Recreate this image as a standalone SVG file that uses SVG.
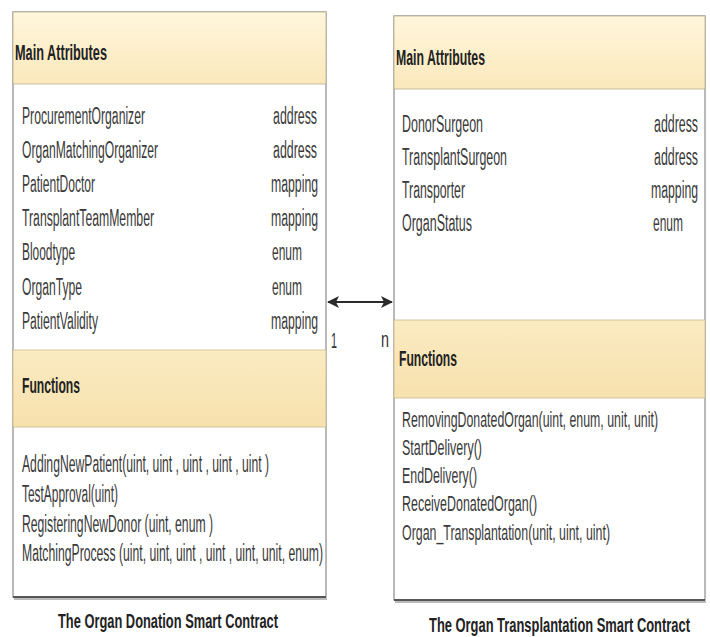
<svg xmlns="http://www.w3.org/2000/svg" width="710" height="637" viewBox="0 0 710 637">
<defs>
<linearGradient id="hdr" x1="0" y1="0" x2="0" y2="1">
<stop offset="0" stop-color="#fff6dc"/>
<stop offset="1" stop-color="#fbe8bb"/>
</linearGradient>
<linearGradient id="fn" x1="0" y1="0" x2="0" y2="1">
<stop offset="0" stop-color="#fbebc2"/>
<stop offset="1" stop-color="#f7e1ad"/>
</linearGradient>
<marker id="ah" viewBox="0 0 12 12" refX="11" refY="6" markerWidth="12" markerHeight="12" markerUnits="userSpaceOnUse" orient="auto-start-reverse">
<path d="M0,0 L12,6 L0,12 L3,6 Z" fill="#2b2b2b"/>
</marker>
</defs>
<style>
.box{fill:#ffffff;stroke:#8a8a8a;stroke-width:1.2}
.hd{fill:url(#hdr);stroke:#b9ae94;stroke-width:0.8}
.fb{fill:url(#fn);stroke:#c9b98f;stroke-width:0.8}
.bot{stroke:#555;stroke-width:2.2}
.sh{stroke:#bbbbbb;stroke-width:2}
.t{font-family:"Liberation Sans",Arial,sans-serif;font-size:23px;fill:#3a3a3a}
.f{font-family:"Liberation Sans",Arial,sans-serif;font-size:22px;fill:#3a3a3a}
.h{font-family:"Liberation Sans",Arial,sans-serif;font-size:22px;font-weight:bold;fill:#222}
.c{font-family:"Liberation Sans",Arial,sans-serif;font-size:21px;font-weight:bold;fill:#222}
.m{font-family:"Liberation Sans",Arial,sans-serif;font-size:22px;fill:#333}
</style>
<rect width="710" height="637" fill="#ffffff"/>

<g id="organ-donation">
<rect class="box" x="13" y="12" width="313" height="585"/>
<rect class="hd" x="13" y="12" width="313" height="72"/>
<rect class="fb" x="13" y="350" width="313" height="77"/>
<line class="sh" x1="14" y1="599" x2="327" y2="599"/>
<line class="bot" x1="13" y1="597" x2="326" y2="597"/>
<text class="h" transform="translate(15,60) scale(0.58,1)" textLength="158.6" lengthAdjust="spacingAndGlyphs">Main Attributes</text>
<text class="t" transform="translate(22,124) scale(0.55,1)" textLength="223.6" lengthAdjust="spacingAndGlyphs">ProcurementOrganizer</text>
<text class="t" transform="translate(22,158) scale(0.55,1)" textLength="247.3" lengthAdjust="spacingAndGlyphs">OrganMatchingOrganizer</text>
<text class="t" transform="translate(22,192) scale(0.55,1)" textLength="132.7" lengthAdjust="spacingAndGlyphs">PatientDoctor</text>
<text class="t" transform="translate(22,226) scale(0.55,1)" textLength="240" lengthAdjust="spacingAndGlyphs">TransplantTeamMember</text>
<text class="t" transform="translate(22,260) scale(0.55,1)" textLength="96.4" lengthAdjust="spacingAndGlyphs">Bloodtype</text>
<text class="t" transform="translate(22,295) scale(0.55,1)" textLength="109.1" lengthAdjust="spacingAndGlyphs">OrganType</text>
<text class="t" transform="translate(22,329) scale(0.55,1)" textLength="138.2" lengthAdjust="spacingAndGlyphs">PatientValidity</text>
<text class="t" transform="translate(273,124) scale(0.55,1)" textLength="80" lengthAdjust="spacingAndGlyphs">address</text>
<text class="t" transform="translate(273,158) scale(0.55,1)" textLength="80" lengthAdjust="spacingAndGlyphs">address</text>
<text class="t" transform="translate(271,192) scale(0.55,1)" textLength="85.5" lengthAdjust="spacingAndGlyphs">mapping</text>
<text class="t" transform="translate(271,226) scale(0.55,1)" textLength="85.5" lengthAdjust="spacingAndGlyphs">mapping</text>
<text class="t" transform="translate(272,260) scale(0.55,1)" textLength="54.5" lengthAdjust="spacingAndGlyphs">enum</text>
<text class="t" transform="translate(272,295) scale(0.55,1)" textLength="54.5" lengthAdjust="spacingAndGlyphs">enum</text>
<text class="t" transform="translate(271,329) scale(0.55,1)" textLength="85.5" lengthAdjust="spacingAndGlyphs">mapping</text>
<text class="h" transform="translate(22,393) scale(0.58,1)" textLength="100" lengthAdjust="spacingAndGlyphs">Functions</text>
<text class="t" transform="translate(22,472) scale(0.55,1)" textLength="449.1" lengthAdjust="spacingAndGlyphs">AddingNewPatient(uint, uint , uint , uint , uint )</text>
<text class="t" transform="translate(22,502) scale(0.55,1)" textLength="174.5" lengthAdjust="spacingAndGlyphs">TestApproval(uint)</text>
<text class="t" transform="translate(22,532) scale(0.55,1)" textLength="347.3" lengthAdjust="spacingAndGlyphs">RegisteringNewDonor (uint, enum )</text>
<text class="t" transform="translate(22,561) scale(0.55,1)" textLength="547.3" lengthAdjust="spacingAndGlyphs">MatchingProcess (uint, uint, uint , uint , uint, unit, enum)</text>
<text class="c" transform="translate(58,628) scale(0.55,1)" textLength="400" lengthAdjust="spacingAndGlyphs">The Organ Donation Smart Contract</text>
</g>

<g id="organ-transplantation">
<rect class="box" x="394" y="16" width="311" height="584"/>
<rect class="hd" x="394" y="16" width="311" height="73"/>
<rect class="fb" x="394" y="320" width="311" height="78"/>
<line class="sh" x1="395" y1="602" x2="706" y2="602"/>
<line class="bot" x1="394" y1="600" x2="705" y2="600"/>
<text class="h" transform="translate(396,65) scale(0.58,1)" textLength="153.4" lengthAdjust="spacingAndGlyphs">Main Attributes</text>
<text class="t" transform="translate(402,132) scale(0.55,1)" textLength="147.3" lengthAdjust="spacingAndGlyphs">DonorSurgeon</text>
<text class="t" transform="translate(402,165) scale(0.55,1)" textLength="190.9" lengthAdjust="spacingAndGlyphs">TransplantSurgeon</text>
<text class="t" transform="translate(402,198) scale(0.55,1)" textLength="114.5" lengthAdjust="spacingAndGlyphs">Transporter</text>
<text class="t" transform="translate(402,231) scale(0.55,1)" textLength="127.3" lengthAdjust="spacingAndGlyphs">OrganStatus</text>
<text class="t" transform="translate(654,132) scale(0.55,1)" textLength="80" lengthAdjust="spacingAndGlyphs">address</text>
<text class="t" transform="translate(654,165) scale(0.55,1)" textLength="80" lengthAdjust="spacingAndGlyphs">address</text>
<text class="t" transform="translate(651,198) scale(0.55,1)" textLength="85.5" lengthAdjust="spacingAndGlyphs">mapping</text>
<text class="t" transform="translate(653,231) scale(0.55,1)" textLength="54.5" lengthAdjust="spacingAndGlyphs">enum</text>
<text class="h" transform="translate(399,366) scale(0.58,1)" textLength="100" lengthAdjust="spacingAndGlyphs">Functions</text>
<text class="f" transform="translate(402,427) scale(0.55,1)" textLength="465.5" lengthAdjust="spacingAndGlyphs">RemovingDonatedOrgan(uint, enum, unit, unit)</text>
<text class="f" transform="translate(402,455) scale(0.55,1)" textLength="145.5" lengthAdjust="spacingAndGlyphs">StartDelivery()</text>
<text class="f" transform="translate(402,483) scale(0.55,1)" textLength="136.4" lengthAdjust="spacingAndGlyphs">EndDelivery()</text>
<text class="f" transform="translate(402,511) scale(0.55,1)" textLength="245.5" lengthAdjust="spacingAndGlyphs">ReceiveDonatedOrgan()</text>
<text class="f" transform="translate(402,540) scale(0.55,1)" textLength="378.2" lengthAdjust="spacingAndGlyphs">Organ_Transplantation(unit, uint, uint)</text>
<text class="c" transform="translate(429,632) scale(0.55,1)" textLength="474.5" lengthAdjust="spacingAndGlyphs">The Organ Transplantation Smart Contract</text>
</g>

<g id="connectors">
<line x1="328" y1="302" x2="392" y2="302" stroke="#2b2b2b" stroke-width="2.2" marker-start="url(#ah)" marker-end="url(#ah)"/>
<text class="m" transform="translate(331,348) scale(0.6,1)" textLength="10" lengthAdjust="spacingAndGlyphs">1</text>
<text class="m" transform="translate(381,347) scale(0.6,1)" textLength="13.3" lengthAdjust="spacingAndGlyphs">n</text>
</g>
</svg>
